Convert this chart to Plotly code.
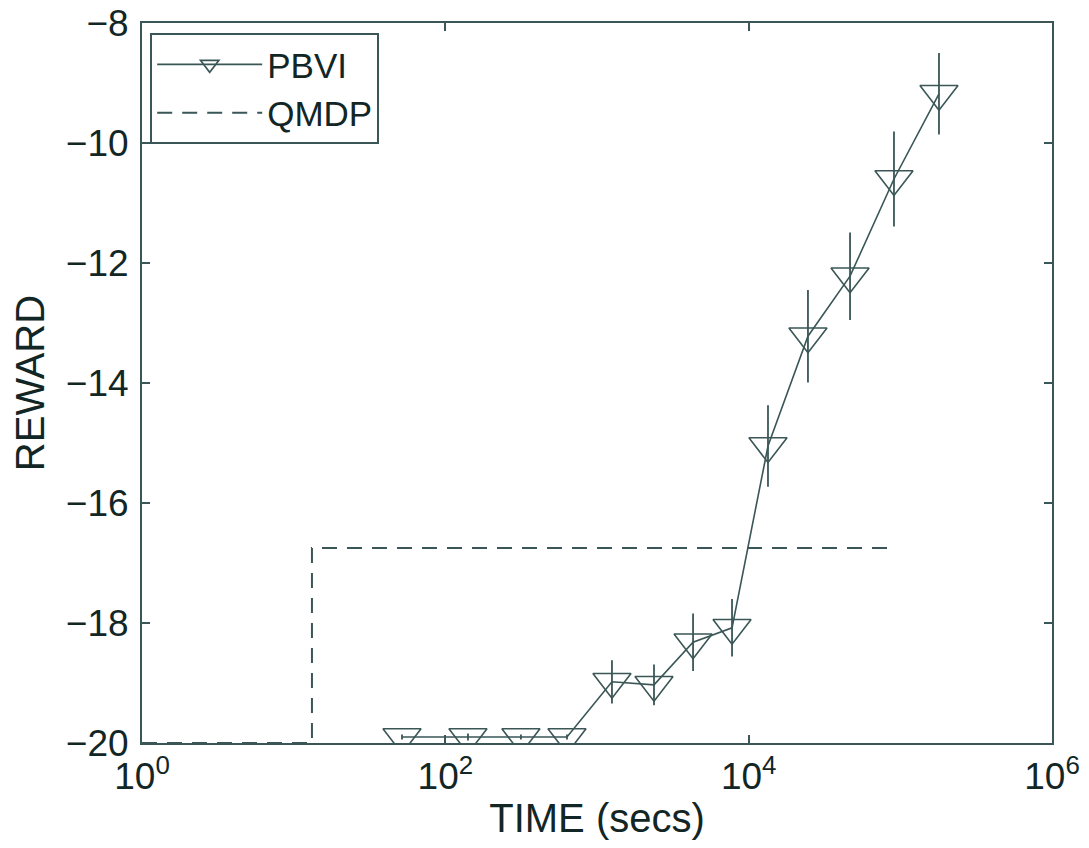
import plotly.graph_objects as go

# PBVI data
pbvi_time = [51.8, 141, 315, 634, 1255, 2376, 4298, 7768, 13410, 24600, 46600, 90800, 179800]
pbvi_reward = [-19.9, -19.9, -19.9, -19.9, -18.98, -19.03, -18.32, -18.08, -15.05, -13.22, -12.22, -10.6, -9.18]
pbvi_err = [0.04, 0.06, 0.04, 0.04, 0.36, 0.34, 0.48, 0.48, 0.68, 0.77, 0.73, 0.79, 0.68]

# QMDP step line
qmdp_time = [1, 13.2, 13.2, 85000]
qmdp_reward = [-20, -20, -16.75, -16.75]

x_tickvals = [1, 100, 10000, 1000000]
x_ticktext = ["10<sup>0</sup>", "10<sup>2</sup>", "10<sup>4</sup>", "10<sup>6</sup>"]
y_tickvals = [-20, -18, -16, -14, -12, -10, -8]

LINE = "#3a5656"
TEXT = "#122626"
FONT = "Liberation Sans, Arial, sans-serif"

fig = go.Figure()
fig.add_trace(go.Scatter(
    x=pbvi_time, y=pbvi_reward, name="PBVI", mode="lines+markers",
    line=dict(color=LINE, width=1.6),
    marker=dict(symbol="triangle-down-open", size=33, color=LINE, line=dict(width=1.6, color=LINE)),
    error_y=dict(type="data", array=pbvi_err, visible=True, color=LINE, thickness=1.8, width=0),
))
fig.add_trace(go.Scatter(
    x=qmdp_time, y=qmdp_reward, name="QMDP", mode="lines",
    line=dict(color=LINE, width=2, dash="15px,10px"),
))

axis_common = dict(
    showline=True, linecolor=LINE, linewidth=2, mirror="ticks",
    ticks="inside", ticklen=8, tickwidth=1.5, tickcolor=LINE,
    showgrid=False, zeroline=False, automargin=False, ticklabeloverflow="allow",
    tickfont=dict(family=FONT, size=37, color=TEXT),
)

fig.update_layout(
    width=1089, height=848,
    margin=dict(l=134, r=45, t=15, b=113),
    paper_bgcolor="white", plot_bgcolor="white",
    font=dict(family=FONT, color=TEXT),
    xaxis=dict(type="log", range=[0, 6], tickvals=x_tickvals, ticktext=x_ticktext,
               title=dict(text="TIME (secs)", font=dict(family=FONT, size=40, color=TEXT), standoff=8),
               **axis_common),
    yaxis=dict(range=[-20, -8], tickvals=y_tickvals, ticklabelstandoff=4,
               title=dict(text="REWARD", font=dict(family=FONT, size=40, color=TEXT), standoff=12),
               **axis_common),
    legend=dict(x=0.009, y=0.986, xanchor="left", yanchor="top",
                bgcolor="white", bordercolor=LINE, borderwidth=2,
                font=dict(family=FONT, size=35, color=TEXT),
                itemwidth=105, tracegroupgap=0, entrywidth=250, entrywidthmode="pixels"),
    showlegend=True,
)

fig.write_html("out.html")
